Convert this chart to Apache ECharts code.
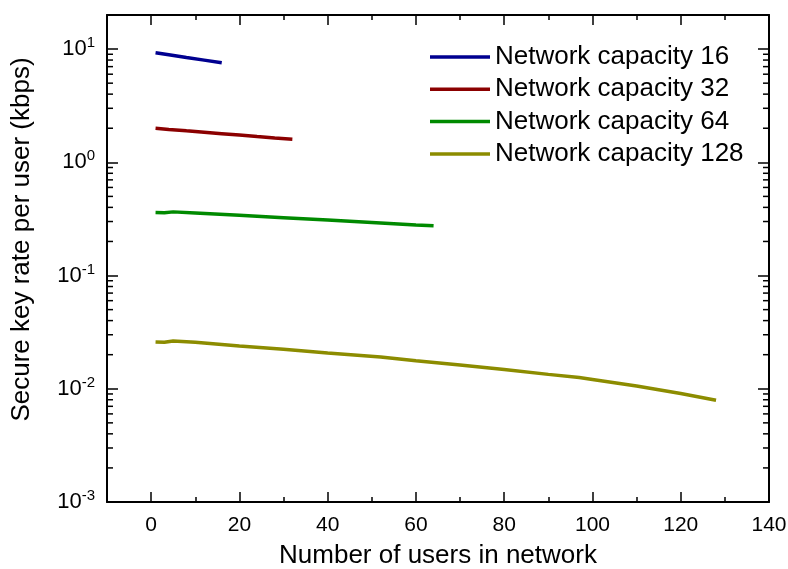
<!DOCTYPE html>
<html>
<head>
<meta charset="utf-8">
<script src="https://cdn.jsdelivr.net/npm/echarts@6/dist/echarts.min.js"></script>
<style>
  html, body { margin: 0; padding: 0; background: #fff; }
  #chart { width: 788px; height: 569px; }
</style>
</head>
<body>
<div id="chart"></div>
<script>
// Secure key rate per user vs. number of users, one curve per network capacity
const seriesNames = ['Network capacity 16', 'Network capacity 32', 'Network capacity 64', 'Network capacity 128'];
const seriesColors = ['#000090', '#8b0000', '#008a00', '#8c8c00'];

const users16 = [1, 4, 8, 12, 16];
const rate16 = [9.27, 8.9, 8.43, 7.99, 7.57];

const users32 = [1, 4, 8, 12, 16, 20, 24, 28, 32];
const rate32 = [2.0, 1.953, 1.897, 1.844, 1.791, 1.74, 1.69, 1.643, 1.6];

const users64 = [1, 3, 5, 10, 20, 30, 40, 50, 60, 64];
const rate64 = [0.36, 0.358, 0.365, 0.357, 0.34, 0.324, 0.309, 0.294, 0.28, 0.275];

const users128 = [1, 3, 5, 10, 20, 30, 40, 52, 60, 70, 80, 90, 97, 100, 110, 120, 128];
const rate128 = [0.0259, 0.0257, 0.0264, 0.0257, 0.0239, 0.0223, 0.0207, 0.0191, 0.0177, 0.0162, 0.0148, 0.0134, 0.01256, 0.0121, 0.0106, 0.0091, 0.00793];

// Axis ranges and tick positions
const xMin = -10, xMax = 140;
const xMajorTicks = [0, 20, 40, 60, 80, 100, 120, 140];
const xMinorTicks = [10, 30, 50, 70, 90, 110, 130];
const yMin = 0.001, yMax = 20;
const yTickExponents = [-3, -2, -1, 0, 1];
const yMinorMantissas = [2, 3, 4, 5, 6, 7, 8, 9];

const FONT = 'Liberation Sans, Arial, sans-serif';

function pairs(xs, ys) { return xs.map((x, i) => [x, ys[i]]); }

// minor log ticks at 2..9 x 10^n, positioned through the y scale
const minorTickValues = [];
yTickExponents.forEach(e => {
  yMinorMantissas.forEach(m => {
    const v = m * Math.pow(10, e);
    if (v > yMin && v < yMax) minorTickValues.push([xMin, v]);
  });
});

const chart = echarts.init(document.getElementById('chart'), null, { renderer: 'canvas' });

const tickStyle = { color: '#000', width: 1.5 };
const axisLineStyle = { color: '#000', width: 2 };

function yLabel(v) {
  const e = Math.round(Math.log10(v));
  if (yTickExponents.indexOf(e) < 0) return '';
  if (Math.abs(v - Math.pow(10, e)) > 1e-6 * v) return '';
  return '10{sup|' + e + '}';
}

const lineSeries = [
  pairs(users16, rate16),
  pairs(users32, rate32),
  pairs(users64, rate64),
  pairs(users128, rate128)
].map((d, i) => ({
  name: seriesNames[i],
  type: 'line',
  data: d,
  symbol: 'none',
  smooth: false,
  lineStyle: { color: seriesColors[i], width: 3.5 },
  itemStyle: { color: seriesColors[i] },
  xAxisIndex: 0,
  yAxisIndex: 0,
  z: 3
}));

// helper for the frame axes that only carry tick marks
function tickOnlyX(position, values, len) {
  return {
    type: 'value',
    position: position,
    min: xMin, max: xMax,
    axisLine: { show: false, onZero: false },
    axisTick: { show: true, inside: true, length: len, customValues: values, lineStyle: tickStyle },
    axisLabel: { show: false },
    splitLine: { show: false }
  };
}

const option = {
  backgroundColor: '#fff',
  animation: false,
  textStyle: { fontFamily: FONT, color: '#000' },
  grid: { left: 107, right: 19, top: 15, bottom: 67, containLabel: false, outerBoundsMode: 'none' },
  legend: {
    data: seriesNames,
    orient: 'vertical',
    left: 430,
    top: 44,
    padding: 0,
    icon: 'rect',
    itemWidth: 60,
    itemHeight: 3.5,
    itemGap: 6.3,
    textStyle: { fontFamily: FONT, fontSize: 26, color: '#000' }
  },
  xAxis: [
    {
      type: 'value',
      position: 'bottom',
      min: xMin, max: xMax,
      name: 'Number of users in network',
      nameLocation: 'middle',
      nameGap: 41,
      nameTextStyle: { fontFamily: FONT, fontSize: 26, color: '#000' },
      axisLine: { show: true, onZero: false, lineStyle: axisLineStyle },
      axisTick: { show: true, inside: true, length: 10, customValues: xMajorTicks, lineStyle: tickStyle },
      axisLabel: { fontFamily: FONT, fontSize: 21, color: '#000', margin: 13, customValues: xMajorTicks },
      splitLine: { show: false }
    },
    {
      type: 'value',
      position: 'top',
      min: xMin, max: xMax,
      axisLine: { show: true, onZero: false, lineStyle: axisLineStyle },
      axisTick: { show: true, inside: true, length: 10, customValues: xMajorTicks, lineStyle: tickStyle },
      axisLabel: { show: false },
      splitLine: { show: false }
    },
    tickOnlyX('bottom', xMinorTicks, 5),
    tickOnlyX('top', xMinorTicks, 5)
  ],
  yAxis: [
    {
      type: 'log',
      logBase: 10,
      position: 'left',
      min: yMin, max: yMax,
      name: 'Secure key rate per user (kbps)',
      nameLocation: 'middle',
      nameGap: 72,
      nameRotate: 90,
      nameTextStyle: { fontFamily: FONT, fontSize: 26, color: '#000', padding: [0, 0, 0, 38] },
      axisLine: { show: true, onZero: false, lineStyle: axisLineStyle },
      axisTick: { show: true, inside: true, length: 11, lineStyle: tickStyle },
      axisLabel: {
        fontFamily: FONT, fontSize: 22, color: '#000', margin: 12,
        formatter: yLabel,
        rich: {
          sup: { fontFamily: FONT, fontSize: 15, color: '#000', padding: [0, 0, 12, 0] }
        }
      },
      splitLine: { show: false }
    },
    {
      type: 'log',
      logBase: 10,
      position: 'right',
      min: yMin, max: yMax,
      axisLine: { show: true, onZero: false, lineStyle: axisLineStyle },
      axisTick: { show: true, inside: true, length: 11, lineStyle: tickStyle },
      axisLabel: { show: false },
      splitLine: { show: false }
    }
  ],
  series: lineSeries.concat([{
    type: 'custom',
    name: 'minor-ticks',
    silent: true,
    xAxisIndex: 0,
    yAxisIndex: 0,
    clip: false,
    data: minorTickValues,
    renderItem: function (params, api) {
      const v = api.value(1);
      const left = api.coord([xMin, v]);
      const right = api.coord([xMax, v]);
      return {
        type: 'group',
        children: [
          { type: 'line', shape: { x1: left[0], y1: left[1], x2: left[0] + 6, y2: left[1] },
            style: { stroke: '#000', lineWidth: 1.5 } },
          { type: 'line', shape: { x1: right[0] - 6, y1: right[1], x2: right[0], y2: right[1] },
            style: { stroke: '#000', lineWidth: 1.5 } }
        ]
      };
    },
    z: 2
  }])
};

chart.setOption(option);
</script>
</body>
</html>
